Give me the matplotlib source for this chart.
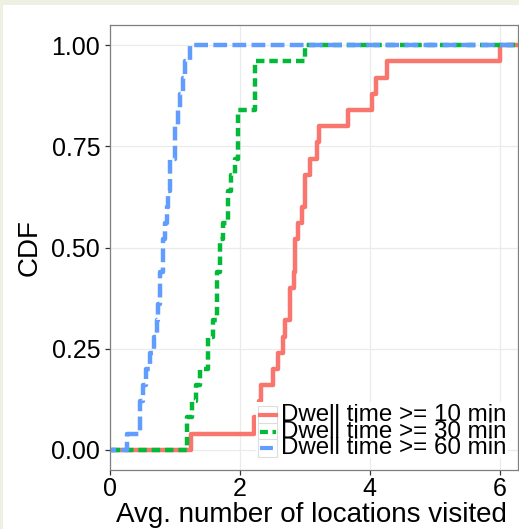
import numpy as np
import matplotlib.pyplot as plt
from matplotlib.patches import Rectangle

plt.rcParams['font.family'] = ['Liberation Sans', 'DejaVu Sans']

# avg. number of locations visited per user, for each dwell time threshold
dwell_10 = [1.25, 2.21, 2.30, 2.33, 2.51, 2.59, 2.67, 2.69, 2.77, 2.77, 2.83, 2.85, 2.85,
            2.90, 2.95, 3.00, 3.00, 3.08, 3.18, 3.21, 3.67, 4.03, 4.10, 4.26, 6.00]
dwell_30 = [1.18, 1.18, 1.26, 1.33, 1.38, 1.51, 1.51, 1.59, 1.64, 1.64, 1.64, 1.69, 1.69,
            1.74, 1.82, 1.82, 1.87, 1.92, 1.97, 1.97, 1.97, 2.23, 2.23, 2.23, 3.00]
dwell_60 = [0.26, 0.46, 0.46, 0.51, 0.56, 0.62, 0.68, 0.72, 0.74, 0.77, 0.77, 0.82, 0.82,
            0.85, 0.87, 0.90, 0.92, 0.92, 1.00, 1.00, 1.04, 1.08, 1.12, 1.15, 1.23]

labels = ['Dwell time >= 10 min', 'Dwell time >= 30 min', 'Dwell time >= 60 min']
colors = ['#F8766D', '#00BA38', '#619CFF']
dash_styles = [None, (1.9, 1.1), (3.1, 1.2)]

x_ticks = [0, 2, 4, 6]
y_ticks = [0, 0.25, 0.5, 0.75, 1.0]
y_ticklabels = ['0.00', '0.25', '0.50', '0.75', '1.00']

W, H = 519, 529
fig = plt.figure(figsize=(W / 100, H / 100), dpi=100, facecolor='#eef0e1')
# white slide area
fig.add_artist(Rectangle((3 / W, 0), 1, 1 - 5 / H, transform=fig.transFigure,
                         facecolor='white', edgecolor='none', zorder=-10))

L, R, T, B = 110, 518, 25, 470
ax = fig.add_axes([L / W, (H - B) / H, (R - L) / W, (B - T) / H], zorder=1)

for vals, col, ds in zip([dwell_10, dwell_30, dwell_60], colors, dash_styles):
    v = np.sort(vals)
    cdf = np.arange(1, len(v) + 1) / len(v)
    xs = np.concatenate([[-1], v, [8]])
    ys = np.concatenate([[0], cdf, [1]])
    if ds is None:
        ax.step(xs, ys, where='post', color=col, lw=3.2)
    else:
        ax.step(xs, ys, where='post', color=col, lw=3.2, dashes=ds)

ax.set_xlim(0, 6.28)
ax.set_ylim(-0.05, 1.05)
ax.set_xticks(x_ticks)
ax.set_yticks(y_ticks)
ax.set_yticklabels(y_ticklabels)
ax.grid(True, color='#ebebeb', lw=0.9)
ax.set_axisbelow(True)
for s in ax.spines.values():
    s.set_color('#7f7f7f')
    s.set_linewidth(0.9)
ax.tick_params(length=3.6, width=0.9, color='#333333', labelsize=18, labelcolor='black')
ax.tick_params(axis='x', pad=1.5)
ax.tick_params(axis='y', pad=3.5)

ax.set_ylabel('CDF', fontsize=20)
ax.yaxis.set_label_coords((43 - L) / (R - L), 0.5)
ax.set_xlabel('Avg. number of locations visited', fontsize=20)
ax.xaxis.set_label_coords(0.493, (B - 502) / (B - T))

# legend drawn by hand (rows sit close together as in the original)
def fx(px):
    return (px - L) / (R - L)

def fy(py):
    return (B - py) / (B - T)

ax.add_patch(Rectangle((fx(256), fy(458)), fx(508) - fx(256), fy(402) - fy(458),
                       transform=ax.transAxes, facecolor='white', edgecolor='none', zorder=5))
for i, (lab, col, ds) in enumerate(zip(labels, colors, dash_styles)):
    py = 415 + i * 16.7
    ax.add_patch(Rectangle((fx(258), fy(py + 9)), fx(277) - fx(258), fy(py - 9) - fy(py + 9),
                           transform=ax.transAxes, facecolor='white', edgecolor='#dddddd',
                           lw=0.8, zorder=6))
    kw = dict(color=col, lw=3, transform=ax.transAxes, zorder=7, clip_on=False)
    if ds is not None:
        kw['dashes'] = ds
    ax.plot([fx(260), fx(276)], [fy(py), fy(py)], **kw)
    ax.text(fx(281), fy(py), lab, transform=ax.transAxes, fontsize=17.4, va='center',
            ha='left', color='black', zorder=8)

fig.savefig('out.png', dpi=100, facecolor=fig.get_facecolor())
